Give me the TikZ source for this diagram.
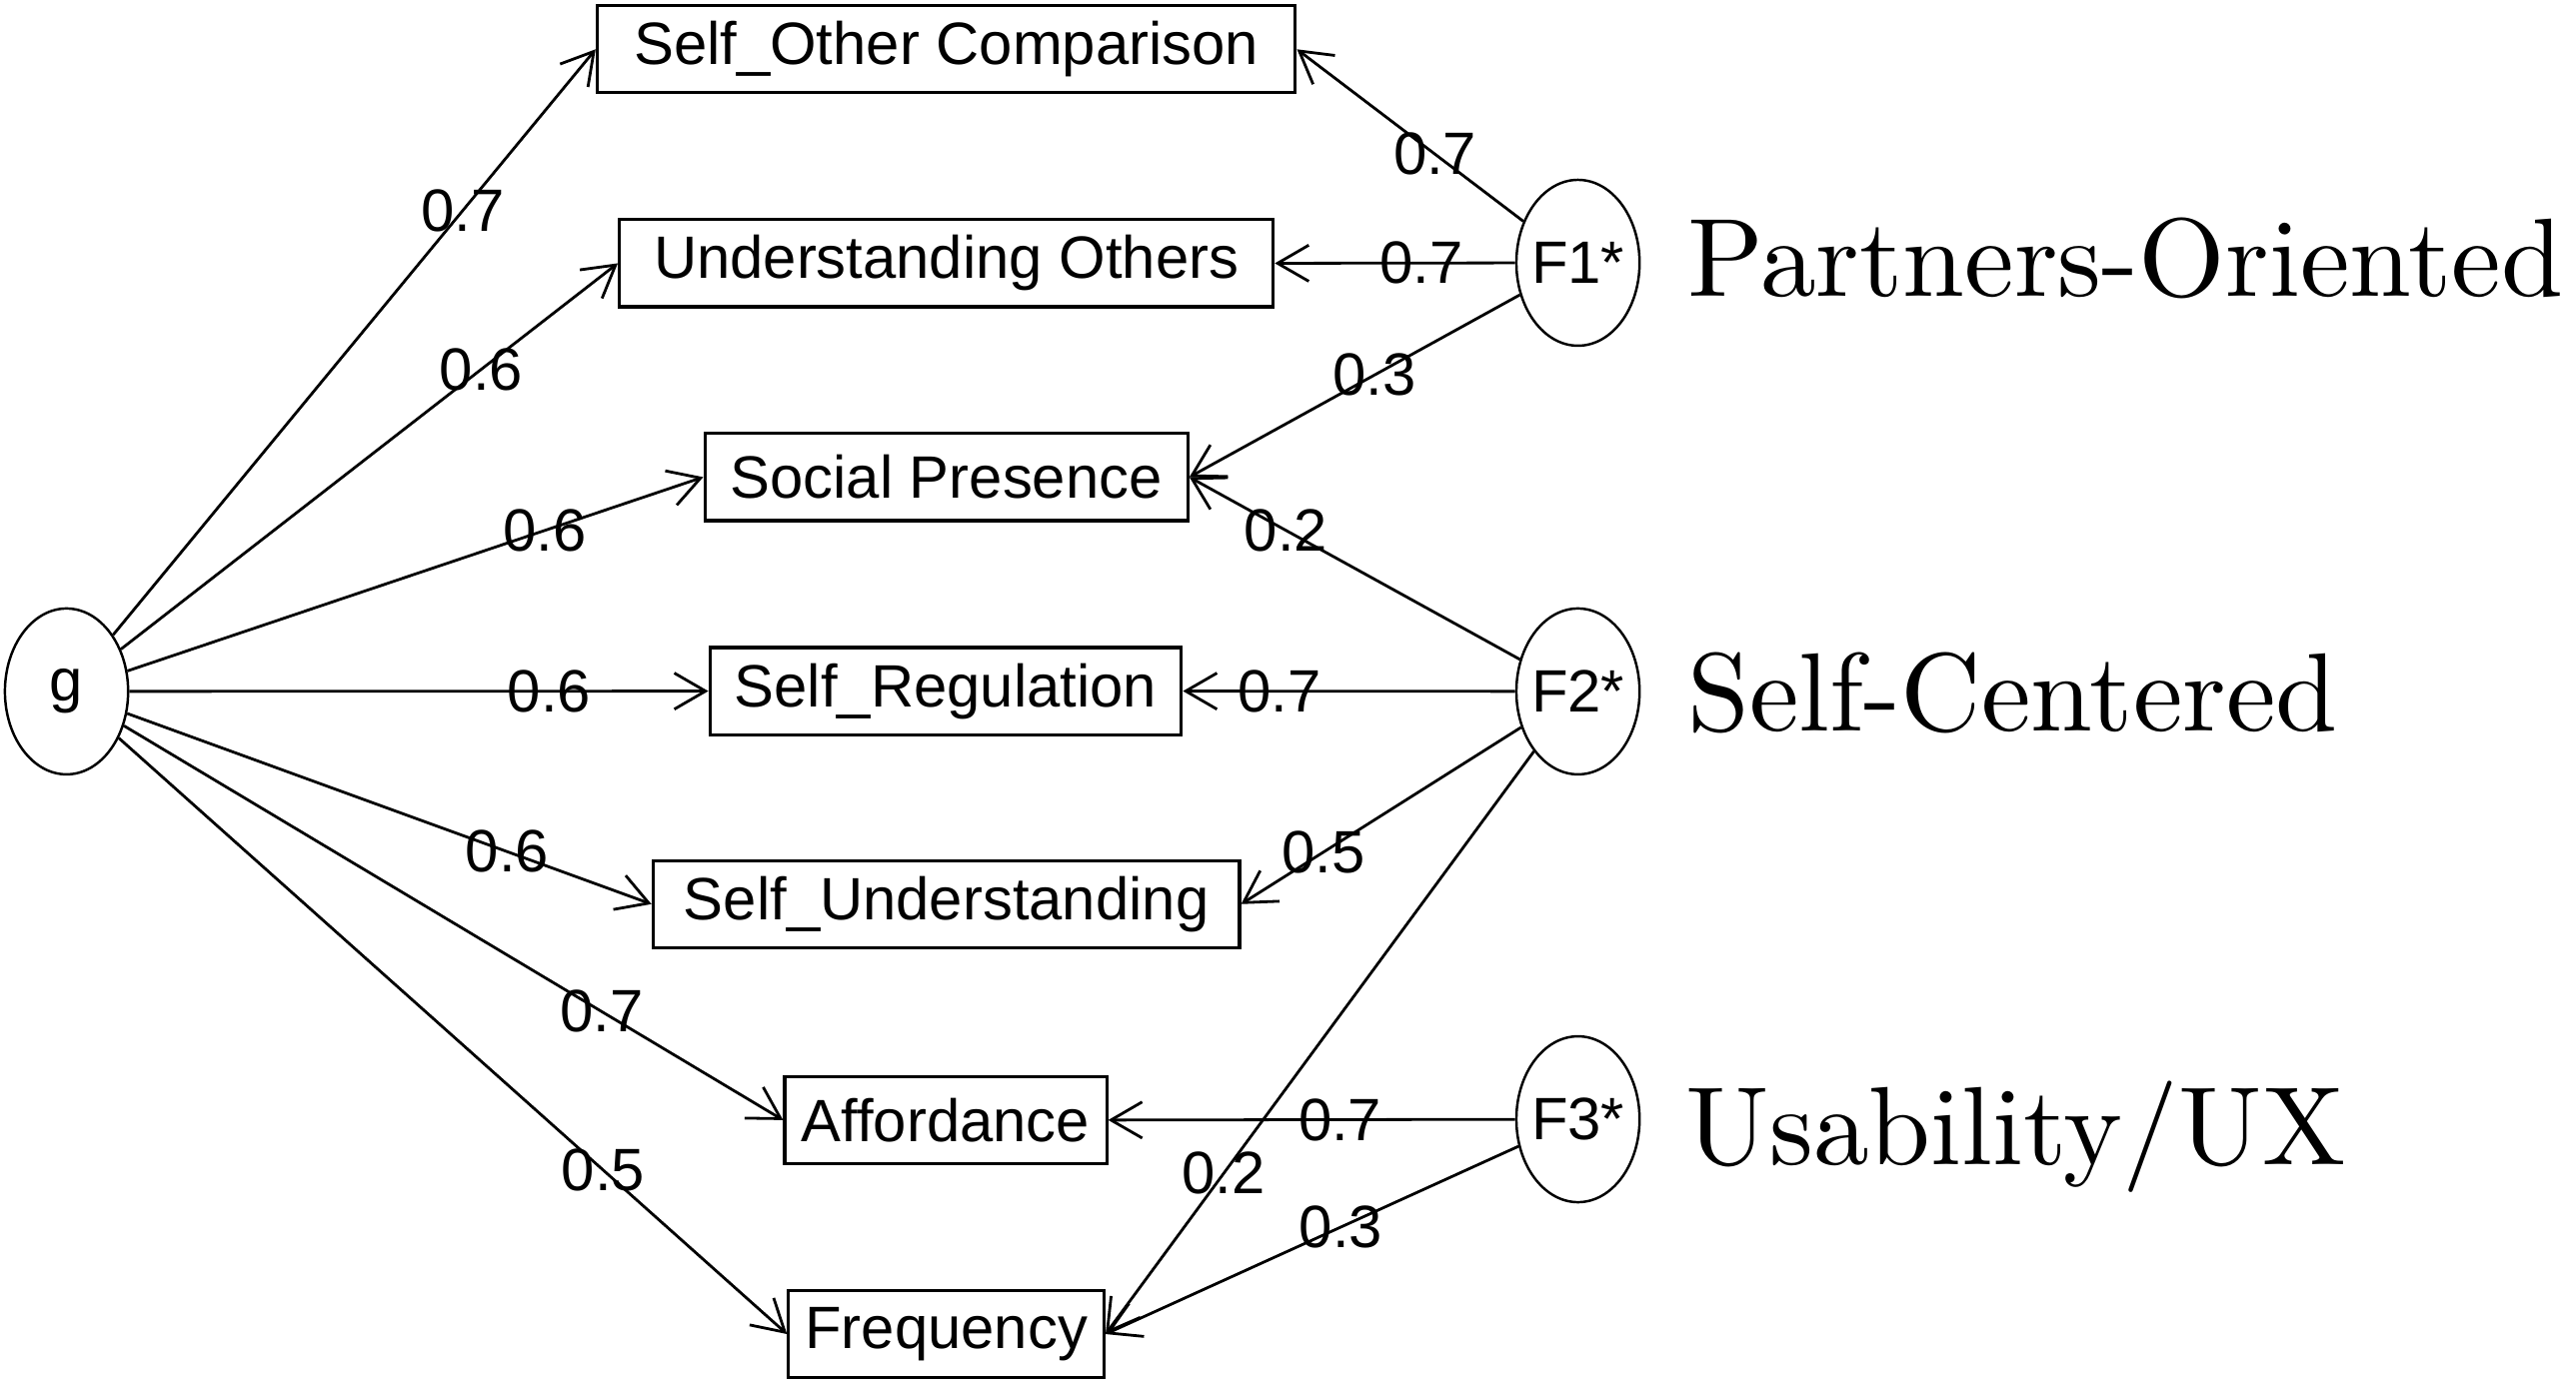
\documentclass[tikz,border=0pt]{standalone}
\usepackage{fontspec}
\usepackage{graphicx}
\newfontfamily\arialf{Liberation Sans}
\usetikzlibrary{arrows.meta,shapes.geometric}
\newcommand\sffont{\arialf\fontsize{36.4}{40}\selectfont}
\newcommand\bigserif[1]{\scalebox{6.78}{\rmfamily\fontsize{10}{12}\selectfont #1}}
\begin{document}
\begin{tikzpicture}[x=1pt,y=-1pt,
  box/.style={draw, line width=1.9pt, rectangle, minimum height=53pt, inner sep=0pt, font=\sffont},
  lat/.style={draw, ellipse, line width=1.5pt, minimum width=75pt, minimum height=101pt, inner sep=0pt, font=\sffont},
  edge/.style={line width=1.7pt, -{Straight Barb[length=19pt,width=22pt]}},
  val/.style={font=\sffont, inner sep=0pt},
  fac/.style={anchor=base west, inner sep=0pt}]
\useasboundingbox (0,0) rectangle (1568,844);

% latent variables
\node[lat] (g)  at (40.5,421)   {\makebox[0pt]{g}};
\node[lat] (f1) at (960.5,160)  {\makebox[0pt]{F1*}};
\node[lat] (f2) at (960.5,421)  {\makebox[0pt]{F2*}};
\node[lat] (f3) at (960.5,681.5){\makebox[0pt]{F3*}};

% observed variables
\node[box, minimum width=425pt] (soc)  at (576,30)      {Self\_Other Comparison};
\node[box, minimum width=398pt] (uo)   at (576,160.3)   {Understanding Others};
\node[box, minimum width=294pt] (sp)   at (576,290.5)   {Social Presence};
\node[box, minimum width=287pt] (sr)   at (575.6,420.8) {Self\_Regulation};
\node[box, minimum width=357pt] (su)   at (576,550.5)   {Self\_Understanding};
\node[box, minimum width=196pt] (aff)  at (575.6,682)   {Affordance};
\node[box, minimum width=192pt] (freq) at (576,812.3)   {Frequency};

% general factor loadings
\draw[edge] (g) -- node[val, pos=.725] {0.7} (soc.west);
\draw[edge] (g) -- node[val, pos=.725] {0.6} (uo.west);
\draw[edge] (g) -- node[val, pos=.725] {0.6} (sp.west);
\draw[edge] (g) -- node[val, pos=.725] {0.6} (sr.west);
\draw[edge] (g) -- node[val, pos=.725] {0.6} (su.west);
\draw[edge] (g) -- node[val, pos=.725] {0.7} (aff.west);
\draw[edge] (g) -- node[val, pos=.725] {0.5} (freq.west);

% group factor loadings
\draw[edge] (f1) -- node[val, pos=.39] {0.7} (soc.east);
\draw[edge] (f1) -- node[val, pos=.39] {0.7} (uo.east);
\draw[edge] (f1) -- node[val, pos=.44] {0.3} (sp.east);
\draw[edge] (f2) -- node[val, pos=.708] {0.2} (sp.east);
\draw[edge] (f2) -- node[val, pos=.71] {0.7} (sr.east);
\draw[edge] (f2) -- node[val, pos=.705] {0.5} (su.east);
\draw[edge] (f2) -- node[val, pos=.724] {0.2} (freq.east);
\draw[edge] (f3) -- node[val, pos=.43] {0.7} (aff.east);
\draw[edge] (f3) -- node[val, pos=.43] {0.3} (freq.east);

% factor names
\node[fac] (l1) at (1027,180.5) {\bigserif{Partners-Oriented}};
\node[fac] (l2) at (1027,445.2) {\bigserif{Self-Centered}};
\node[fac] (l3) at (1026,708.9) {\bigserif{Usability/UX}};
\end{tikzpicture}
\end{document}
